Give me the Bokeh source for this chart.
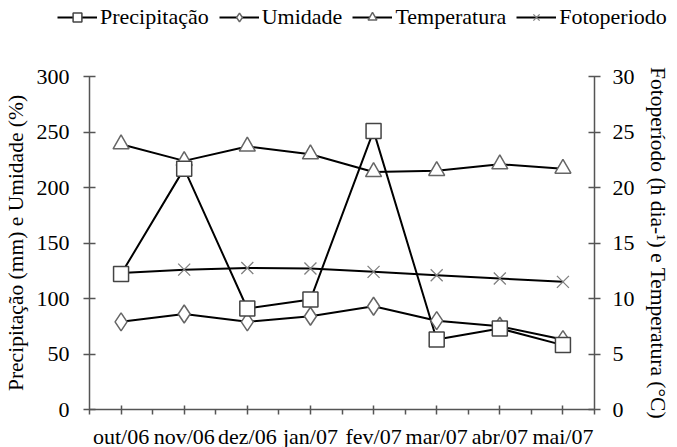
from bokeh.plotting import figure
from bokeh.layouts import column
from bokeh.models import Range1d, LinearAxis, FixedTicker, Legend, LegendItem
from bokeh.embed import file_html
from bokeh.resources import INLINE

months = ["out/06", "nov/06", "dez/06", "jan/07", "fev/07", "mar/07", "abr/07", "mai/07"]
precipitacao = [122, 217, 91, 99, 251, 63, 73, 58]
umidade = [79, 86, 79, 84, 93, 80, 75, 63]
temperatura = [23.9, 22.4, 23.7, 23.0, 21.4, 21.5, 22.1, 21.7]
fotoperiodo = [12.3, 12.6, 12.75, 12.7, 12.4, 12.1, 11.8, 11.5]
left_ticks = [0, 50, 100, 150, 200, 250, 300]
right_ticks = [0, 5, 10, 15, 20, 25, 30]

FONT = "Times New Roman, Liberation Serif, serif"
FS = "22px"
FS_AX = "21.5px"
x = list(range(len(months)))

MK = "#666666"
LW = 2
styles = {
    "Precipitação": dict(marker="square", size=15, fill_color="white", line_color="#444444", line_width=1.5),
    "Umidade": dict(marker="diamond", size=18, fill_color="white", line_color=MK, line_width=1.5),
    "Temperatura": dict(marker="triangle", size=16, fill_color="white", line_color=MK, line_width=1.5),
    "Fotoperiodo": dict(marker="x", size=17, line_color="#808080", line_width=1.3),
}


def no_frame_align(fig):
    if "frame_align" in fig.properties():
        fig.frame_align = False


# ---------------- main chart ----------------
p = figure(frame_width=505, frame_height=333, output_backend="svg", toolbar_location=None,
           x_range=Range1d(-0.5, len(months) - 0.5), y_range=Range1d(0, 300),
           min_border_left=84, min_border_right=80, min_border_top=12, min_border_bottom=30)
no_frame_align(p)
p.extra_y_ranges = {"right": Range1d(0, 30)}
p.outline_line_color = None
p.xgrid.visible = False
p.ygrid.visible = False
p.background_fill_color = "white"
p.border_fill_color = "white"

AX = "#555555"
xa = p.xaxis[0]
xa.ticker = FixedTicker(ticks=x, minor_ticks=[i - 0.5 for i in range(len(months) + 1)])
xa.major_label_overrides = {i: m for i, m in enumerate(months)}
xa.major_tick_in = 4
xa.major_tick_out = 5
xa.minor_tick_in = 0
xa.minor_tick_out = 5
xa.major_label_standoff = 9

ya = p.yaxis[0]
ya.ticker = FixedTicker(ticks=left_ticks)
ya.axis_label = "Precipitação (mm) e Umidade (%)"

ra = LinearAxis(y_range_name="right", ticker=FixedTicker(ticks=right_ticks),
                axis_label="Fotoperíodo (h dia-¹) e Temperatura (°C)")
p.add_layout(ra, "right")

for ax in [xa, ya, ra]:
    ax.axis_line_color = AX
    ax.axis_line_width = 1.5
    ax.major_tick_line_color = AX
    ax.minor_tick_line_color = AX
    ax.major_tick_line_width = 1.5
    ax.minor_tick_line_width = 1.5
    ax.major_label_text_font = FONT
    ax.major_label_text_font_size = FS
    ax.major_label_text_color = "black"
    ax.axis_label_text_font = FONT
    ax.axis_label_text_font_size = FS_AX
    ax.axis_label_text_font_style = "normal"
    ax.axis_label_text_color = "black"
for ax in [ya, ra]:
    ax.major_tick_in = 6
    ax.major_tick_out = 6
    ax.minor_tick_in = 0
    ax.minor_tick_out = 0
ya.major_label_standoff = 14
ra.major_label_standoff = 12
ya.axis_label_standoff = 6
ra.axis_label_standoff = 8

p.line(x, temperatura, y_range_name="right", line_color="black", line_width=LW)
p.line(x, fotoperiodo, y_range_name="right", line_color="black", line_width=LW)
p.line(x, umidade, line_color="black", line_width=LW)
p.line(x, precipitacao, line_color="black", line_width=LW)
p.scatter(x, temperatura, y_range_name="right", **styles["Temperatura"])
p.scatter(x, fotoperiodo, y_range_name="right", **styles["Fotoperiodo"])
p.scatter(x, umidade, **styles["Umidade"])
p.scatter(x, precipitacao, **styles["Precipitação"])

# ---------------- legend strip on top ----------------
lg = figure(width=669, height=64, output_backend="svg", toolbar_location=None,
            x_range=Range1d(0, 1), y_range=Range1d(0, 1),
            x_axis_location=None, y_axis_location=None,
            min_border_left=0, min_border_right=0, min_border_top=0, min_border_bottom=0)
no_frame_align(lg)
lg.outline_line_color = None
lg.xgrid.visible = False
lg.ygrid.visible = False
lg.background_fill_color = "white"
lg.border_fill_color = "white"

nan = float("nan")
items = []
for name, st in styles.items():
    rl = lg.line([nan], [nan], line_color="black", line_width=LW)
    rm = lg.scatter([nan], [nan], **st)
    items.append(LegendItem(label=name, renderers=[rl, rm]))

legend = Legend(items=items, orientation="horizontal", location=(57, 34))
legend.label_text_font = FONT
legend.label_text_font_size = FS
legend.label_text_color = "black"
legend.glyph_width = 40
legend.glyph_height = 22
legend.label_standoff = 3
legend.spacing = 10
legend.padding = 0
legend.margin = 0
legend.border_line_color = None
legend.background_fill_alpha = 0
lg.add_layout(legend, "center")

layout = column(lg, p, spacing=0)
open("out.html", "w").write(file_html(layout, INLINE))
